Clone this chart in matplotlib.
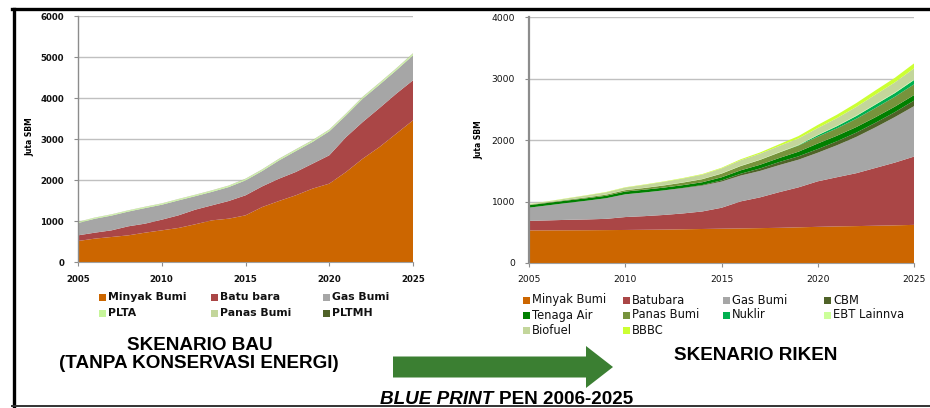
"""Blue Print PEN 2006-2025: BAU vs RIKEN energy supply scenarios (stacked areas)."""
import matplotlib
matplotlib.use('Agg')
import matplotlib.pyplot as plt
from matplotlib.lines import Line2D
from matplotlib.patches import Rectangle, FancyArrow

YEARS = list(range(2005, 2026))
XTICKS = [2005, 2010, 2015, 2020, 2025]

# --- Skenario BAU (juta SBM), stacked layers
BAU_LABELS = ['Minyak Bumi', 'Batu bara', 'Gas Bumi', 'PLTA', 'Panas Bumi', 'PLTMH']
BAU_COLORS = ['#CC6600', '#AA4646', '#A6A6A6', '#C6F59A', '#C3D69B', '#4F6228']
bau_minyak = [512, 570, 610, 650, 715, 772, 830, 920, 1016, 1057, 1138,
              1341, 1488, 1626, 1789, 1911, 2195, 2520, 2805, 3130, 3455]
bau_batubara = [138, 145, 162, 220, 220, 260, 308, 356, 366, 431, 488,
                504, 544, 569, 609, 691, 850, 895, 950, 975, 976]
bau_gas = [300, 340, 360, 360, 380, 365, 365, 330, 330, 340, 365,
           375, 445, 510, 530, 585, 530, 570, 570, 570, 610]
bau_plta = [20, 20, 21, 21, 22, 22, 23, 23, 24, 24, 25,
            25, 26, 26, 27, 27, 28, 28, 29, 29, 30]
bau_panas = [8, 8, 9, 9, 10, 10, 11, 11, 12, 12, 13,
             13, 14, 14, 15, 15, 16, 16, 17, 17, 18]
bau_pltmh = [1, 1, 1, 1, 1, 1, 1, 1, 1, 1, 2,
             2, 2, 2, 2, 2, 2, 2, 2, 2, 2]

# --- Skenario RIKEN (juta SBM), stacked layers
RIKEN_LABELS = ['Minyak Bumi', 'Batubara', 'Gas Bumi', 'CBM', 'Tenaga Air',
                'Panas Bumi', 'Nuklir', 'EBT Lainnva', 'Biofuel', 'BBBC']
RIKEN_COLORS = ['#CC6600', '#AA4646', '#A6A6A6', '#4F6228', '#008000',
                '#77933C', '#00B050', '#CCFF99', '#C3D69B', '#CCFF33']
rk_minyak = [530, 531, 532, 533, 535, 537, 540, 543, 548, 553, 558,
             562, 567, 572, 580, 588, 595, 600, 606, 612, 620]
rk_batubara = [155, 162, 170, 175, 183, 210, 222, 238, 258, 285, 340,
               440, 500, 580, 650, 740, 800, 860, 940, 1020, 1110]
rk_gas = [215, 245, 275, 305, 335, 370, 385, 400, 410, 420, 425,
          420, 430, 440, 450, 465, 520, 590, 660, 740, 820]
rk_cbm = [0, 0, 0, 0, 0, 0, 0, 0, 5, 10, 20,
          30, 40, 50, 55, 60, 65, 70, 75, 80, 90]
rk_air = [40, 40, 40, 40, 40, 45, 45, 45, 45, 45, 50,
          55, 60, 65, 75, 90, 90, 90, 90, 90, 90]
rk_panas = [8, 10, 12, 15, 18, 22, 28, 35, 42, 50, 60,
            70, 80, 90, 100, 110, 120, 135, 150, 160, 175]
rk_nuklir = [0, 0, 0, 0, 0, 0, 0, 0, 0, 0, 0,
             0, 0, 0, 5, 25, 35, 45, 55, 60, 70]
rk_ebt = [2, 2, 2, 3, 3, 3, 3, 4, 4, 4, 5,
          5, 5, 6, 6, 7, 7, 8, 8, 9, 10]
rk_biofuel = [5, 12, 20, 28, 35, 40, 48, 55, 62, 70, 80,
              90, 95, 100, 105, 110, 125, 140, 155, 165, 180]
rk_bbbc = [3, 3, 4, 4, 5, 5, 6, 6, 8, 9, 10,
           15, 20, 28, 38, 50, 55, 62, 68, 74, 80]

W, H = 930, 408
fig = plt.figure(figsize=(W / 100, H / 100), dpi=100, facecolor='white')


def px_axes(x0, y_top, x1, y_bot):
    return fig.add_axes([x0 / W, 1 - y_bot / H, (x1 - x0) / W, (y_bot - y_top) / H])


def style_axes(ax, ymax, bold, spine_w):
    ax.set_xlim(2005, 2025)
    ax.set_ylim(0, ymax)
    ax.set_xticks(XTICKS)
    ax.set_yticks(range(0, ymax + 1, 1000))
    ax.grid(axis='y', color='#C0C0C0', lw=1.0)
    ax.set_axisbelow(True)
    for s in ('top', 'right'):
        ax.spines[s].set_visible(False)
    ax.spines['left'].set_color('#8C8C8C')
    ax.spines['left'].set_linewidth(spine_w)
    ax.spines['bottom'].set_color('#A0A0A0')
    ax.tick_params(axis='both', color='#8C8C8C', length=3, width=0.8,
                   labelsize=6.2 if bold else 6.6, labelcolor='#111111')
    ax.tick_params(axis='y', pad=7)
    ax.tick_params(axis='x', pad=6)
    for t in ax.get_xticklabels() + ax.get_yticklabels():
        t.set_fontweight('bold' if bold else 'normal')


# left chart: BAU
ax1 = px_axes(78, 16, 413, 262)
ax1.stackplot(YEARS, bau_minyak, bau_batubara, bau_gas, bau_plta, bau_panas, bau_pltmh,
              colors=BAU_COLORS, lw=0)
style_axes(ax1, 6000, True, 1.0)
fig.text(30 / W, 1 - 137 / H, 'Juta SBM', rotation=90, fontsize=5.5, fontweight='bold',
         ha='center', va='center')

# right chart: RIKEN
ax2 = px_axes(529, 17, 914, 263)
ax2.stackplot(YEARS, rk_minyak, rk_batubara, rk_gas, rk_cbm, rk_air, rk_panas,
              rk_nuklir, rk_ebt, rk_biofuel, rk_bbbc, colors=RIKEN_COLORS, lw=0)
style_axes(ax2, 4000, False, 1.6)
fig.text(479 / W, 1 - 140 / H, 'Juta SBM', rotation=90, fontsize=5.5, fontweight='bold',
         ha='center', va='center')


def draw_legend(labels, colors, x_cols, y_rows, ncol, bold, fsize):
    for i, (lab, c) in enumerate(zip(labels, colors)):
        col, row = i % ncol, i // ncol
        x, y = x_cols[col], y_rows[row]
        fig.add_artist(Rectangle((x / W, 1 - (y + 3.5) / H), 7 / W, 7 / H,
                                 transform=fig.transFigure, color=c, lw=0))
        fig.text((x + 9) / W, 1 - y / H, lab, fontsize=fsize, va='center', ha='left',
                 fontweight='bold' if bold else 'normal', color='#111111')


draw_legend(BAU_LABELS, BAU_COLORS, [99, 211, 323], [297, 313], 3, True, 7.8)
draw_legend(RIKEN_LABELS, RIKEN_COLORS, [523, 623, 723, 824], [300, 315, 330], 4, False, 8.3)

# captions
CAP = dict(fontsize=13.6, fontweight='bold', family='Liberation Sans')
fig.text(200 / W, 1 - 346 / H, 'SKENARIO BAU', ha='center', va='center', **CAP)
fig.text(199 / W, 1 - 364 / H, '(TANPA KONSERVASI ENERGI)', ha='center', va='center', **CAP)
fig.text(756 / W, 1 - 356 / H, 'SKENARIO RIKEN', ha='center', va='center', **CAP)
t1 = fig.text(380 / W, 1 - 404 / H, 'BLUE PRINT ', style='italic', ha='left',
              va='baseline', **CAP)
fig.canvas.draw()
bb = t1.get_window_extent(fig.canvas.get_renderer())
fig.text(bb.x1 / W, 1 - 404 / H, 'PEN 2006-2025', ha='left', va='baseline', **CAP)

# big arrow between the scenarios
fig.add_artist(FancyArrow(393 / W, 1 - 367 / H, 220 / W, 0, width=21 / H,
                          head_width=42 / H, head_length=27 / W,
                          length_includes_head=True, transform=fig.transFigure,
                          color='#3B7F32', lw=0))

# frame
fig.add_artist(Line2D([12 / W, 1], [1 - 9 / H, 1 - 9 / H], color='black', lw=2.4,
                      transform=fig.transFigure))
fig.add_artist(Line2D([13.5 / W, 13.5 / W], [1 - 9 / H, 1 - 406 / H], color='black', lw=2.4,
                      transform=fig.transFigure))
fig.add_artist(Line2D([12 / W, 1], [1 - 406 / H, 1 - 406 / H], color='#333333', lw=1.4,
                      transform=fig.transFigure))

fig.savefig('out.png', dpi=100, facecolor='white')
